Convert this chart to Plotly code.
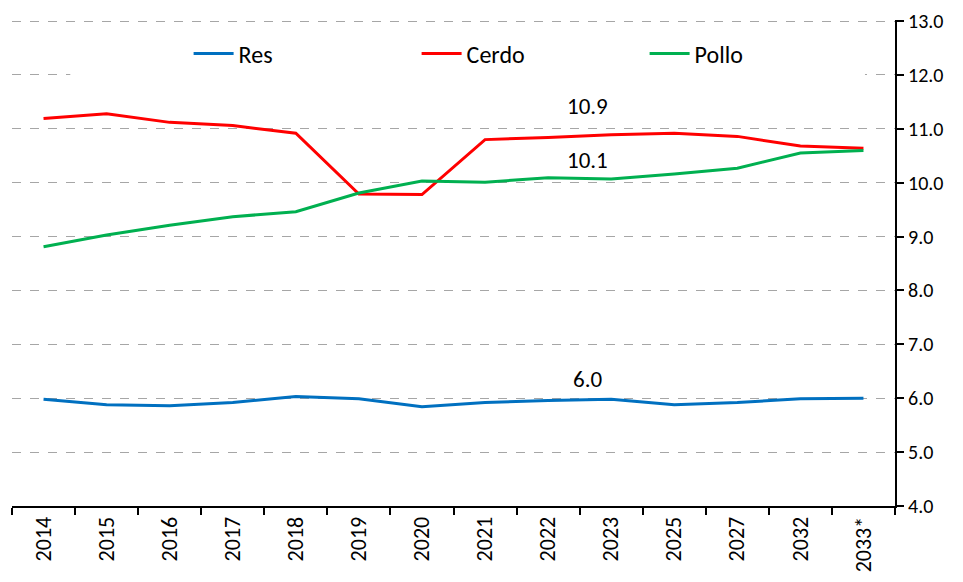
import plotly.graph_objects as go

years = ["2014", "2015", "2016", "2017", "2018", "2019", "2020", "2021",
         "2022", "2023", "2025", "2027", "2032", "2033*"]
res = [5.98, 5.88, 5.86, 5.92, 6.03, 5.99, 5.84, 5.92, 5.96, 5.98, 5.88, 5.92, 5.99, 6.00]
cerdo = [11.19, 11.28, 11.12, 11.06, 10.92, 9.79, 9.78, 10.80, 10.84, 10.89, 10.92, 10.86, 10.68, 10.64]
pollo = [8.81, 9.03, 9.21, 9.37, 9.46, 9.81, 10.03, 10.01, 10.09, 10.07, 10.16, 10.27, 10.55, 10.60]

series_names = ["Res", "Cerdo", "Pollo"]
colors = ["#0070C0", "#FF0000", "#00B050"]
label_idx = years.index("2023")

FONT = "Carlito, Lato, sans-serif"

fig = go.Figure()
for name, vals, col in zip(series_names, [res, cerdo, pollo], colors):
    fig.add_trace(go.Scatter(x=years, y=vals, mode="lines", name=name,
                             line=dict(color=col, width=3)))

label_offsets = [0.38, 0.54, 0.35]
for vals, off in zip([res, cerdo, pollo], label_offsets):
    fig.add_annotation(x=label_idx - 0.38, y=vals[label_idx] + off,
                       text=f"{vals[label_idx]:.1f}", showarrow=False,
                       font=dict(family=FONT, size=23, color="#000000"))

# white legend backdrop that hides the gridline behind the legend (as in the original)
fig.add_shape(type="rect", xref="paper", yref="paper", x0=0.066, x1=0.966,
              y0=0.87, y1=0.95, fillcolor="white", line=dict(width=0),
              layer="above")

fig.update_layout(
    width=963, height=582,
    margin=dict(l=4, r=76, t=12, b=84),
    paper_bgcolor="white", plot_bgcolor="white",
    font=dict(family=FONT, size=20, color="#000000"),
    showlegend=True,
    legend=dict(orientation="h", x=0.2, xanchor="left", y=0.93, yanchor="middle",
                bgcolor="rgba(0,0,0,0)", font=dict(family=FONT, size=24),
                entrywidth=173, entrywidthmode="pixels",
                itemwidth=40),
    xaxis=dict(type="category", range=[-0.5, len(years) - 0.5], automargin=False,
               showgrid=False, showline=True, linecolor="#000000",
               linewidth=2, ticks="outside", tickson="boundaries", ticklen=7,
               tickcolor="#000000", tickwidth=2, tickangle=-90,
               ticklabeloverflow="allow",
               tickfont=dict(family=FONT, size=22), zeroline=False),
    yaxis=dict(side="right", range=[4, 13.02], dtick=1, tick0=4, tickformat=".1f",
               automargin=False, ticklabeloverflow="allow",
               showgrid=True, gridcolor="#A6A6A6", griddash="dash", gridwidth=1,
               showline=True, linecolor="#000000", linewidth=2,
               ticks="outside", ticklen=7, tickcolor="#000000", tickwidth=2,
               tickfont=dict(family=FONT, size=20), zeroline=False),
)

fig.write_html("out.html")
